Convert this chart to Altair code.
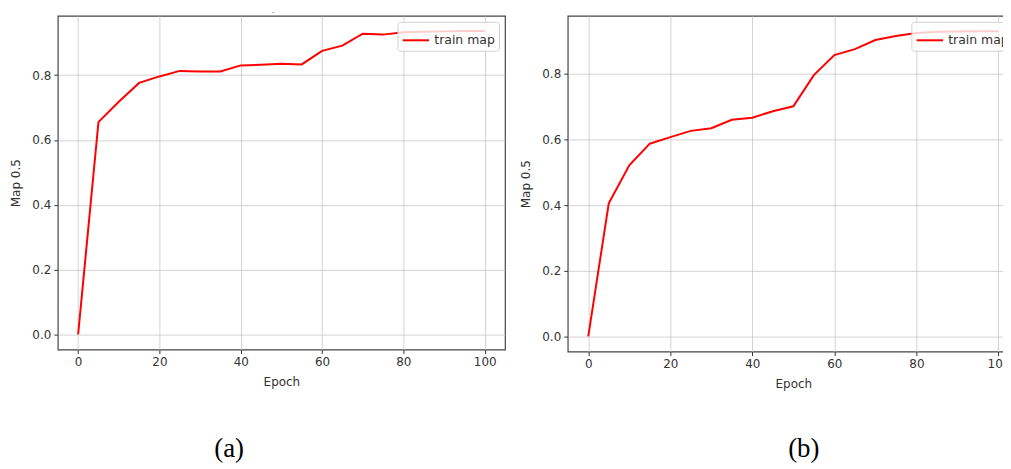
import altair as alt
import pandas as pd

epochs = [0, 5, 10, 15, 20, 25, 30, 35, 40, 45, 50, 55, 60, 65, 70, 75, 80, 85, 90, 95, 100]
map_a = [0.0, 0.655, 0.718, 0.776, 0.796, 0.813, 0.811, 0.811, 0.830, 0.832, 0.835, 0.833, 0.875,
         0.891, 0.928, 0.925, 0.932, 0.934, 0.935, 0.936, 0.936]
map_b = [0.0, 0.405, 0.521, 0.587, 0.607, 0.626, 0.634, 0.660, 0.666, 0.686, 0.701, 0.796, 0.857,
         0.875, 0.903, 0.915, 0.924, 0.928, 0.929, 0.930, 0.930]
x_ticks = [0, 20, 40, 60, 80, 100]
y_ticks = [0.0, 0.2, 0.4, 0.6, 0.8]
series_name = "train map"
captions = ["(a)", "(b)"]


def panel(values, ydom, w, h, cap, cap_x, cap_y, dot_x, dot_y):
    df = pd.DataFrame({"Epoch": epochs, "map": values, "series": [series_name] * len(epochs)})
    line = alt.Chart(df).mark_line(strokeWidth=2, clip=True).encode(
        x=alt.X("Epoch:Q",
                scale=alt.Scale(domain=[-5, 105], nice=False, zero=False),
                axis=alt.Axis(values=x_ticks, title="Epoch", format="d")),
        y=alt.Y("map:Q",
                scale=alt.Scale(domain=ydom, nice=False, zero=False),
                axis=alt.Axis(values=y_ticks, format=".1f", title="Map 0.5")),
        color=alt.Color("series:N",
                        scale=alt.Scale(domain=[series_name], range=["#ff0000"]),
                        legend=alt.Legend(title=None, orient="top-right", offset=6,
                                          fillColor="rgba(255,255,255,0.8)",
                                          strokeColor="#d0d0d0", cornerRadius=3,
                                          padding=4, symbolType="stroke",
                                          symbolStrokeWidth=2, symbolSize=700,
                                          labelFontSize=12.5, labelColor="#333333",
                                          labelFont="DejaVu Sans")),
    )
    cap_df = pd.DataFrame({"label": [cap]})
    cap_text = alt.Chart(cap_df).mark_text(
        font="Liberation Serif", fontSize=27, color="black",
        baseline="middle", align="center"
    ).encode(text="label:N", x=alt.value(cap_x), y=alt.value(cap_y))
    dot_df = pd.DataFrame({"label": ["."]})
    dot = alt.Chart(dot_df).mark_text(
        font="DejaVu Sans", fontSize=8, color="#333333",
        baseline="alphabetic", align="center"
    ).encode(text="label:N", x=alt.value(dot_x), y=alt.value(dot_y))
    return alt.layer(line, cap_text, dot).properties(width=w, height=h)


pa = panel(map_a, [-0.0468, 0.9828], 449, 335, captions[0], 172, 435, 216, -3)
pb = panel(map_b, [-0.0465, 0.9765], 453, 337, captions[1], 237, 435, 217, -9)

chart = alt.hconcat(pa, pb, spacing=13).resolve_scale(
    color="independent").resolve_legend(color="independent").properties(
    padding={"left": 1, "top": -9, "right": -17, "bottom": 0}, background="white"
).configure_view(
    stroke="#444444", strokeWidth=1.2
).configure_axis(
    gridColor="#c8c8c8", gridWidth=0.8, tickColor="#333333", tickSize=4,
    labelColor="#333333", titleColor="#333333", labelFont="DejaVu Sans",
    titleFont="DejaVu Sans", labelFontSize=12, titleFontSize=12,
    titleFontWeight="normal", domain=False, labelPadding=3, titlePadding=9
)

chart.save("out.html", embed_options={"renderer": "svg", "actions": False})
